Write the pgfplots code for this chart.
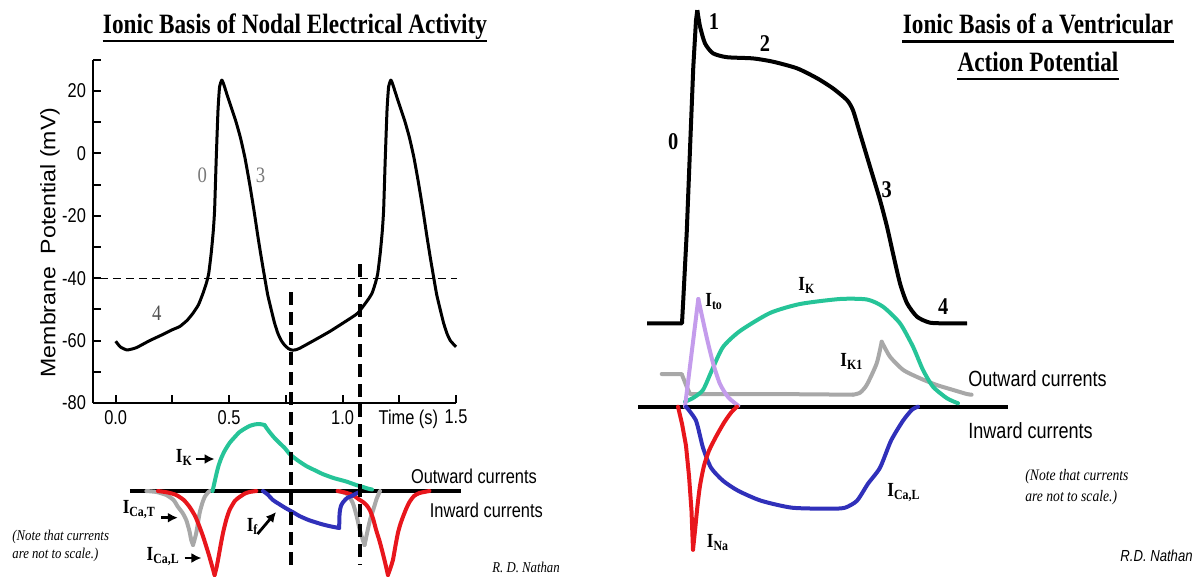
\documentclass[border=0pt]{standalone}
\usepackage{fontspec}
\usepackage{pgfplots}
\pgfplotsset{compat=1.18}
\usetikzlibrary{arrows.meta}
\setmainfont{Liberation Serif}
\newfontfamily\titlefont[FakeStretch=0.83]{Liberation Serif}
\newfontfamily\lblfont[FakeStretch=0.85]{Liberation Serif}
\newfontfamily\sansn[FakeStretch=0.82]{Liberation Sans}
\newfontfamily\sanslong[FakeStretch=1.1]{Liberation Sans}
\newcommand\fs[1]{\fontsize{#1}{#1}\selectfont}

\definecolor{ikgreen}{RGB}{38,196,152}
\definecolor{cared}{RGB}{232,22,28}
\definecolor{tgray}{RGB}{168,168,168}
\definecolor{ifblue}{RGB}{48,48,186}
\definecolor{itolav}{RGB}{196,156,236}
\definecolor{numgray}{RGB}{120,120,120}
\definecolor{numdark}{RGB}{80,80,80}

\tikzset{
  cur/.style={line width=2pt, line join=round, line cap=round},
  lbl/.style={anchor=base west, inner sep=0pt, font=\lblfont\bfseries\fs{10}},
  arr/.style={line width=1.4pt, -{Latex[length=5pt,width=5pt]}},
}

\begin{document}
\begin{tikzpicture}

% ---------------- Nodal action potential ----------------
\begin{axis}[
  scale only axis, width=181.5pt, height=171.6pt,
  at={(46.5pt,88.5pt)}, anchor=south west,
  xmin=-0.1, xmax=1.5, ymin=-80, ymax=30,
  axis x line=bottom, axis y line=left,
  axis line style={line width=1.2pt,-},
  tick align=inside, major tick length=4pt, minor tick length=4pt,
  tick style={black, line width=1pt},
  xtick={0,0.5,1,1.5}, minor xtick={0.25,0.75,1.25},
  ytick={-80,-60,-40,-20,0,20}, minor ytick={-70,-50,-30,-10,10,30},
  ticklabel style={font=\sansn\fs{10}},
  /pgf/number format/assume math mode=true,
  xticklabel style={/pgf/number format/.cd,fixed,fixed zerofill,precision=1},
  clip=false,
]
\addplot[line width=1.5pt, line join=round, smooth, tension=0.3] table {
t V
0.000 -60.2
0.020 -62.0
0.050 -63.0
0.090 -62.3
0.150 -60.0
0.200 -58.3
0.247 -56.6
0.282 -55.5
0.315 -53.5
0.341 -51.2
0.365 -48.5
0.385 -44.8
0.400 -41.5
0.410 -38.5
0.421 -32.0
0.430 -25.0
0.436 -18.1
0.443 -2.1
0.451 13.9
0.458 21.4
0.468 23.5
0.476 22.2
0.490 19.0
0.510 14.6
0.530 10.2
0.550 5.0
0.570 -1.5
0.590 -9.6
0.610 -18.5
0.627 -26.7
0.642 -33.5
0.656 -39.5
0.670 -45.3
0.686 -50.2
0.700 -54.3
0.715 -57.7
0.730 -60.0
0.744 -61.4
0.760 -62.5
0.774 -63.0
0.790 -63.0
0.810 -62.5
0.880 -59.7
0.943 -57.1
1.010 -54.0
1.067 -51.2
1.111 -47.0
1.130 -44.8
1.145 -41.5
1.155 -38.5
1.166 -32.0
1.175 -25.0
1.181 -18.1
1.188 -2.1
1.196 13.9
1.203 21.4
1.213 23.5
1.221 22.2
1.235 19.0
1.255 14.6
1.275 10.2
1.295 5.0
1.315 -1.5
1.335 -9.6
1.355 -18.5
1.372 -26.7
1.387 -33.5
1.401 -39.5
1.415 -45.3
1.431 -50.2
1.445 -54.3
1.460 -57.7
1.475 -60.0
1.500 -62.0
};
% threshold line
\addplot[line width=0.6pt, dash pattern=on 4pt off 2.5pt] coordinates {(-0.07,-40) (1.505,-40)};
\node[font=\lblfont\fs{11}, text=numgray] at (axis cs:0.382,-6.9) {0};
\node[font=\lblfont\fs{11}, text=numgray] at (axis cs:0.639,-6.9) {3};
\node[font=\lblfont\fs{11}, text=numdark] at (axis cs:0.181,-51.3) {4};
\node[font=\sansn\fs{10}] at (axis cs:1.29,-85.1) {Time (s)};
\end{axis}

% ---------------- Nodal currents ----------------
\begin{axis}[
  scale only axis, width=181.5pt, height=145pt,
  at={(46.5pt,-0.5pt)}, anchor=south west,
  xmin=-0.1, xmax=1.5, ymin=-90, ymax=200,
  hide axis, clip=false,
]
\addplot[line width=2pt] coordinates {(0.062,0) (1.524,0)};
% I_Ca,T
\addplot[cur, tgray, smooth, tension=0.4] coordinates {(0.135,0) (0.18,-1) (0.223,-4) (0.255,-9) (0.274,-15.7) (0.295,-22) (0.311,-29) (0.325,-40) (0.333,-49) (0.341,-54)};
\addplot[cur, tgray, smooth, tension=0.4] coordinates {(0.341,-54) (0.355,-42) (0.37,-22) (0.382,-12) (0.392,-6) (0.405,-2) (0.414,0)};
\addplot[cur, tgray, smooth, tension=0.4] coordinates {(0.98,0) (1.02,-3) (1.045,-12) (1.062,-25) (1.075,-38) (1.088,-48) (1.097,-54)};
\addplot[cur, tgray, smooth, tension=0.4] coordinates {(1.097,-54) (1.11,-40) (1.122,-28) (1.135,-19) (1.15,-8) (1.165,0)};
% I_Ca,L
\addplot[cur, cared, smooth, tension=0.4] coordinates {(0.186,0) (0.23,-1.5) (0.267,-4) (0.3,-9) (0.326,-16) (0.35,-25) (0.37,-36) (0.386,-46) (0.40,-56) (0.411,-64) (0.421,-72) (0.436,-84)};
\addplot[cur, cared, smooth, tension=0.4] coordinates {(0.436,-84) (0.444,-77) (0.451,-69) (0.462,-55) (0.473,-42) (0.487,-29) (0.502,-19) (0.525,-10) (0.546,-6) (0.57,-2.5) (0.59,-1) (0.62,0)};
\addplot[cur, cared, smooth, tension=0.4] coordinates {(0.978,0) (1.01,-1.5) (1.045,-4) (1.07,-8) (1.09,-11) (1.105,-14) (1.12,-19) (1.135,-28) (1.148,-39) (1.163,-50) (1.177,-62) (1.19,-74) (1.20,-84)};
\addplot[cur, cared, smooth, tension=0.4] coordinates {(1.20,-84) (1.211,-77) (1.222,-69) (1.233,-55) (1.244,-42) (1.255,-33) (1.266,-26) (1.28,-18) (1.295,-11) (1.315,-5) (1.339,-2) (1.383,0)};
% I_f
\addplot[cur, ifblue, smooth, tension=0.4] coordinates {(0.649,0) (0.67,-3.5) (0.693,-9) (0.72,-13) (0.752,-17.5) (0.78,-21) (0.81,-25) (0.85,-29) (0.884,-31.5) (0.913,-33.5) (0.95,-35.5) (0.985,-37)};
\addplot[cur, ifblue, smooth, tension=0.4] coordinates {(0.985,-37) (0.987,-22) (0.993,-15) (1.003,-11) (1.02,-7) (1.04,-5) (1.06,-2.5) (1.075,-1)};
% I_K
\addplot[cur, ikgreen, smooth, tension=0.4] coordinates {(0.427,0) (0.435,8) (0.443,16) (0.453,25) (0.465,32.7) (0.48,40) (0.502,48) (0.525,54) (0.546,59) (0.57,62.5) (0.59,65) (0.612,66.5) (0.634,67) (0.656,66)};
\addplot[cur, ikgreen, smooth, tension=0.4] coordinates {(0.656,66) (0.665,63) (0.678,59) (0.70,53) (0.722,48) (0.745,43) (0.767,37) (0.80,31) (0.84,25) (0.88,20.5) (0.912,17) (0.96,13) (1.016,9.5) (1.06,6) (1.09,4) (1.11,2.5) (1.13,1.5)};
% markers at maximum diastolic potential and take-off
\addplot[line width=2pt, dash pattern=on 6.5pt off 3.5pt] coordinates {(0.774,199) (0.774,-74)};
\addplot[line width=2pt, dash pattern=on 6.5pt off 3.5pt] coordinates {(1.075,227) (1.075,-74)};
% labels
\node[lbl] at (axis cs:0.264,29) {I\textsubscript{K}};
\draw[arr] (axis cs:0.355,32) -- (axis cs:0.436,32);
\node[lbl] at (axis cs:0.0295,-22) {I\textsubscript{Ca,T}};
\draw[arr] (axis cs:0.201,-26.7) -- (axis cs:0.274,-26.7);
\node[lbl] at (axis cs:0.135,-69) {I\textsubscript{Ca,L}};
\draw[arr] (axis cs:0.304,-67) -- (axis cs:0.378,-67);
\node[lbl] at (axis cs:0.576,-40.7) {I\textsubscript{f}};
\draw[arr] (axis cs:0.625,-43) -- (axis cs:0.707,-21);
\node[anchor=base west, inner sep=0pt, font=\sansn\fs{10}] at (axis cs:1.300,8) {Outward currents};
\node[anchor=base west, inner sep=0pt, font=\sansn\fs{10}] at (axis cs:1.383,-26) {Inward currents};
\end{axis}

% ---------------- Ventricular action potential ----------------
\begin{axis}[
  scale only axis, width=190pt, height=165pt,
  at={(316.5pt,120.85pt)}, anchor=south west,
  xmin=-50, xmax=330, ymin=-90, ymax=20,
  hide axis, clip=false,
]
\addplot[line width=2pt, line join=round] coordinates {(-36,-85) (-1,-85) (0.3,-77) (3.7,-55) (7,-27) (10.3,0.5) (13,16) (14.3,19.4)};
\addplot[line width=2pt, line join=round, smooth, tension=0.4] coordinates {(14.3,19.4) (17,14) (22,8.3) (30,5) (44,3.7) (70,3.3) (90,2.2) (114,0) (134,-3.3) (150,-6.7) (164,-10.6) (170,-14) (177,-21.7) (187,-32.8) (197,-43.9) (204,-52.8) (210,-61.7) (217,-71.7) (224,-78.3) (234,-82.8) (247,-84.8) (265,-85) (284,-85)};
\node[font=\lblfont\bfseries\fs{12}] at (axis cs:-9.7,-24.5) {0};
\node[font=\lblfont\bfseries\fs{12}] at (axis cs:31,15.5) {1};
\node[font=\lblfont\bfseries\fs{12}] at (axis cs:82,8.3) {2};
\node[font=\lblfont\bfseries\fs{12}] at (axis cs:203.7,-40.6) {3};
\node[font=\lblfont\bfseries\fs{12}] at (axis cs:260.3,-79.5) {4};
\end{axis}

% ---------------- Ventricular currents ----------------
\begin{axis}[
  scale only axis, width=190pt, height=135pt,
  at={(316.5pt,11.65pt)}, anchor=south west,
  xmin=-50, xmax=330, ymin=-150, ymax=120,
  hide axis, clip=false,
]
\addplot[line width=2.2pt] coordinates {(-45,0) (325,0)};
% I_K1
\addplot[cur, tgray] coordinates {(-21.3,32.7) (-1.3,32.7) (3.7,20) (7,12.7) (87,12.7) (170,12)};
\addplot[cur, tgray, smooth, tension=0.4] coordinates {(170,12) (177,14) (183.7,21.7) (193.7,43.4) (198.7,65)};
\addplot[cur, tgray, smooth, tension=0.4] coordinates {(198.7,65) (207,50) (220.3,36.7) (237,28.4) (253.7,21.7) (270.3,16.7) (283.7,12.7) (288.6,12)};
% I_K
\addplot[cur, ikgreen, smooth, tension=0.4] coordinates {(2,5) (10,8.7) (20,16.7) (29,36.7) (40,59.7) (57,75.7) (87,93.7) (117,102.7) (157,107.7) (184,107.2) (200,100) (217,83.4) (230,60) (240,36.7) (250,20) (264,8.4) (275,3.4)};
% I_to
\addplot[cur, itolav] coordinates {(2,0) (15.3,107.7)};
\addplot[cur, itolav, smooth, tension=0.4] coordinates {(15.3,107.7) (23.7,69.3) (30.3,42.7) (37,22.7) (45.3,9.3) (55.3,1)};
% I_Ca,L
\addplot[cur, ifblue, smooth, tension=0.4] coordinates {(3,0) (13,-14) (20,-41) (28,-61) (40,-74) (55,-84) (78,-94) (109,-101) (147,-102) (162,-101) (174,-94) (185,-77) (197,-61) (208,-34) (220,-14) (229,-3) (235,0)};
% I_Na
\addplot[cur, cared] coordinates {(-5,0) (-1,-17) (3,-39) (6,-69) (8.5,-104) (10,-143)};
\addplot[cur, cared, smooth, tension=0.4] coordinates {(10,-143) (12,-124) (14.5,-99) (17,-79) (21,-59) (26,-44) (33,-30) (41,-16) (48,-6) (54,0)};
% labels
\node[lbl] at (axis cs:115,116.7) {I\textsubscript{K}};
\node[lbl] at (axis cs:22,100) {I\textsubscript{to}};
\node[lbl] at (axis cs:157,40) {I\textsubscript{K1}};
\node[lbl] at (axis cs:204,-90) {I\textsubscript{Ca,L}};
\node[lbl] at (axis cs:23.5,-141) {I\textsubscript{Na}};
\node[anchor=base west, inner sep=0pt, font=\sansn\fs{11}] at (axis cs:285,20) {Outward currents};
\node[anchor=base west, inner sep=0pt, font=\sansn\fs{11}] at (axis cs:285,-31.6) {Inward currents};
\end{axis}

% ---------------- titles and notes ----------------
\node[anchor=base, inner sep=0pt, font=\titlefont\bfseries\fs{14}] (t1) at (147.5pt,273pt) {Ionic Basis of Nodal Electrical Activity};
\draw[line width=1.4pt] ([yshift=-3.5pt]t1.base west) -- ([yshift=-3.5pt]t1.base east);
\node[anchor=base, inner sep=0pt, font=\titlefont\bfseries\fs{14}] (t2) at (519pt,273pt) {Ionic Basis of a Ventricular};
\draw[line width=1.4pt] ([yshift=-3.8pt]t2.base west) -- ([yshift=-3.8pt]t2.base east);
\node[anchor=base, inner sep=0pt, font=\titlefont\bfseries\fs{14}] (t3) at (519pt,254.2pt) {Action Potential};
\draw[line width=1.4pt] ([yshift=-3.7pt]t3.base west) -- ([yshift=-3.7pt]t3.base east);

\node[rotate=90, inner sep=0pt, font=\sanslong\fs{10.5}] at (25pt,168.75pt) {Membrane\ \ Potential (mV)};

\node[anchor=base west, inner sep=0pt, font=\lblfont\itshape\fs{7.5}] at (6pt,20pt) {(Note that currents};
\node[anchor=base west, inner sep=0pt, font=\lblfont\itshape\fs{7.5}] at (6pt,11pt) {are not to scale.)};
\node[anchor=base west, inner sep=0pt, font=\lblfont\itshape\fs{7.5}] at (246pt,4pt) {R. D. Nathan};

\node[anchor=base west, inner sep=0pt, font=\lblfont\itshape\fs{8}] at (512.5pt,50pt) {(Note that currents};
\node[anchor=base west, inner sep=0pt, font=\lblfont\itshape\fs{8}] at (512.5pt,39.5pt) {are not to scale.)};
\node[anchor=base east, inner sep=0pt, font=\sansn\itshape\fs{8}] at (596.5pt,9.2pt) {R.D. Nathan};

\pgfresetboundingbox
\path (0pt,0pt) rectangle (597.5pt,290pt);
\end{tikzpicture}
\end{document}
